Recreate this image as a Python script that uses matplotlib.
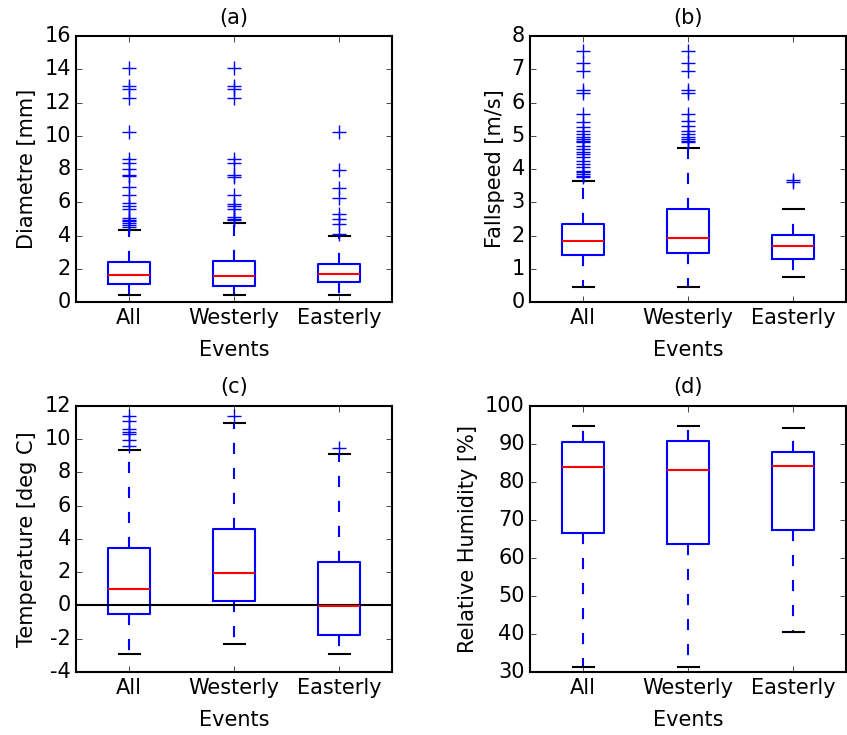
import matplotlib
matplotlib.use("Agg")
import matplotlib.pyplot as plt

plt.style.use('classic')
plt.rcParams['font.family'] = ['DejaVu Sans']
plt.rcParams['font.size'] = 15
plt.rcParams['figure.facecolor'] = 'white'
plt.rcParams['savefig.facecolor'] = 'white'
plt.rcParams['axes.linewidth'] = 1.5
plt.rcParams['axes.unicode_minus'] = False

groups = ['All', 'Westerly', 'Easterly']

# (a) diameter [mm]
diam_q1 = [1.06, 0.96, 1.18]
diam_med = [1.62, 1.54, 1.66]
diam_q3 = [2.40, 2.50, 2.30]
diam_lo = [0.44, 0.44, 0.44]
diam_hi = [4.31, 4.75, 3.97]
diam_fliers = [
    [14.1, 13.0, 12.8, 12.25, 10.25, 8.6, 8.35, 8.0, 7.65, 7.6, 6.9, 6.45,
     5.95, 5.8, 5.6, 5.05, 4.95, 4.85, 4.75, 4.65, 4.5],
    [14.1, 13.0, 12.8, 12.25, 8.6, 8.35, 7.65, 7.55, 6.45, 5.9, 5.8, 5.6,
     5.1, 5.0, 4.95],
    [10.25, 7.95, 6.85, 6.25, 5.3, 5.0, 4.7, 4.1],
]

# (b) fallspeed [m/s]
fall_q1 = [1.42, 1.48, 1.31]
fall_med = [1.83, 1.92, 1.69]
fall_q3 = [2.35, 2.80, 2.03]
fall_lo = [0.45, 0.45, 0.74]
fall_hi = [3.65, 4.62, 2.81]
fall_fliers = [
    [7.55, 7.2, 6.95, 6.38, 6.3, 5.65, 5.4, 5.25, 5.15, 5.05, 4.95, 4.9,
     4.85, 4.8, 4.7, 4.6, 4.5, 4.45, 4.35, 4.25, 4.15, 4.05, 3.95, 3.9,
     3.85, 3.8, 3.75],
    [7.55, 7.2, 6.95, 6.38, 6.3, 5.65, 5.45, 5.3, 5.15, 5.05, 4.95, 4.9,
     4.85, 4.8],
    [3.68, 3.6],
]

# (c) temperature [deg C]
temp_q1 = [-0.5, 0.28, -1.8]
temp_med = [1.02, 1.94, -0.04]
temp_q3 = [3.44, 4.58, 2.64]
temp_lo = [-2.9, -2.3, -2.9]
temp_hi = [9.34, 10.96, 9.12]
temp_fliers = [
    [11.4, 11.1, 10.6, 10.45, 10.3, 9.95, 9.6],
    [11.4],
    [9.46],
]

# (d) relative humidity [%]
rh_q1 = [66.6, 63.8, 67.4]
rh_med = [83.9, 83.1, 84.2]
rh_q3 = [90.4, 90.7, 87.9]
rh_lo = [31.4, 31.4, 40.4]
rh_hi = [94.6, 94.6, 94.2]
rh_fliers = [[], [], []]


def make_stats(q1, med, q3, lo, hi, fl):
    stats = []
    for i, name in enumerate(groups):
        stats.append(dict(label=name, q1=q1[i], med=med[i], q3=q3[i],
                          whislo=lo[i], whishi=hi[i], fliers=fl[i]))
    return stats


def draw(ax, stats, title, ylabel, ylim, yticks):
    ax.bxp(stats, widths=0.4,
           boxprops=dict(color='b', linewidth=1.5),
           whiskerprops=dict(color='b', linestyle=(0, (8, 10)), linewidth=1.5),
           capprops=dict(color='k', linewidth=1.5),
           medianprops=dict(color='r', linewidth=1.5),
           flierprops=dict(marker='+', markeredgecolor='b', markersize=10,
                           linestyle='none'))
    ax.set_xlim(0.5, 3.5)
    ax.set_ylim(*ylim)
    ax.set_yticks(yticks)
    ax.set_title(title, fontsize=15, pad=9)
    ax.set_ylabel(ylabel)
    ax.set_xlabel('Events', labelpad=9)


fig = plt.figure(figsize=(8.47, 7.35), dpi=100)
ax_a = fig.add_axes([0.0903, 0.589, 0.3725, 0.362])
ax_b = fig.add_axes([0.6263, 0.589, 0.3725, 0.362])
ax_c = fig.add_axes([0.0903, 0.0857, 0.3725, 0.362])
ax_d = fig.add_axes([0.6263, 0.0857, 0.3725, 0.362])

draw(ax_a, make_stats(diam_q1, diam_med, diam_q3, diam_lo, diam_hi, diam_fliers),
     '(a)', 'Diametre [mm]', (0, 16), range(0, 17, 2))
draw(ax_b, make_stats(fall_q1, fall_med, fall_q3, fall_lo, fall_hi, fall_fliers),
     '(b)', 'Fallspeed [m/s]', (0, 8), range(0, 9))
draw(ax_c, make_stats(temp_q1, temp_med, temp_q3, temp_lo, temp_hi, temp_fliers),
     '(c)', 'Temperature [deg C]', (-4, 12), range(-4, 13, 2))
ax_c.axhline(0, color='k', linewidth=1.5)
draw(ax_d, make_stats(rh_q1, rh_med, rh_q3, rh_lo, rh_hi, rh_fliers),
     '(d)', 'Relative Humidity [%]', (30, 100), range(30, 101, 10))

fig.savefig('out.png', dpi=100)
